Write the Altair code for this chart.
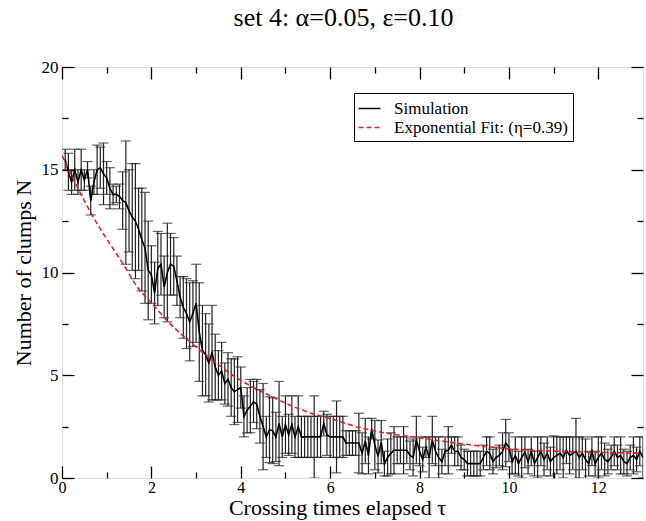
import altair as alt
import pandas as pd

# Simulation: mean number of clumps and error half-width, sampled every 1/14 crossing time
N_SIM = [
    15.5, 14.9, 14.4, 15.0, 14.4, 15.0, 14.5, 15.0, 13.5, 14.4, 15.0, 15.1, 14.8,
    14.6, 14.1, 13.8, 13.8, 13.7, 13.5, 13.4, 13.0, 12.7, 12.5, 12.1, 11.6, 11.2, 10.1,
    9.9, 9.0, 10.2, 10.4, 9.3, 10.0, 10.4, 10.3, 9.6, 8.8, 8.3, 8.0, 7.6, 8.0, 8.5, 7.1,
    6.2, 6.0, 5.6, 6.1, 5.4, 5.0, 5.2, 4.6, 4.8, 4.4, 4.2,
    4.3, 4.4, 3.0, 3.3, 3.5, 3.7, 3.6, 3.0, 2.5, 2.0, 2.35, 2.3, 2.0, 2.65, 2.0, 2.6,
    2.1, 2.6, 2.0, 2.5, 2.0, 2.0, 2.0, 2.0, 2.0, 2.0, 2.0, 2.65, 2.1, 2.0, 2.0,
    2.0, 2.0, 2.0, 1.7, 1.7, 1.7, 1.7, 1.7, 1.2, 1.8, 1.1, 2.4, 1.6, 1.05, 1.75, 0.7,
    1.0, 1.2, 1.35, 1.35, 1.35, 1.35, 1.35, 1.1, 1.0, 1.85, 1.3,
    0.9, 1.5, 1.0, 1.85, 1.3, 1.0, 0.8, 1.3, 1.35, 1.6, 1.3, 1.3, 1.0, 0.9,
    0.7, 0.7, 0.7, 0.7, 0.7, 1.0, 1.3, 1.2, 0.8, 1.0, 1.1, 1.3, 1.7, 1.5,
    0.8, 1.1, 0.7, 1.0, 1.25, 0.8, 1.3, 0.7, 1.0, 1.3, 0.9, 1.2, 0.8, 1.0, 1.1, 1.2,
    1.0, 1.35, 1.1, 1.2, 1.3, 1.0, 1.2, 0.9, 0.7, 1.3, 0.7, 1.0, 1.2, 0.9, 0.8, 1.0,
    1.3, 1.0, 1.1, 0.8, 0.7, 1.0, 1.1, 0.9, 1.3, 1.0,
]
ERR = [
    0.5, 0.9, 0.6, 1.0, 0.6, 1.0, 0.5, 0.4, 0.7, 0.6, 1.2, 1.0, 1.5,
    0.8, 1.0, 0.5, 0.4, 0.6, 1.4, 3.0, 2.0, 2.6, 2.8, 2.0, 2.5, 2.7, 2.4,
    1.4, 1.5, 1.8, 1.5, 1.5, 2.4, 1.5, 1.4, 1.2, 1.0, 1.5, 1.7, 1.9, 1.6, 1.9, 2.4,
    2.2, 2.0, 1.9, 2.3, 1.6, 1.2, 1.4, 1.0, 1.3, 1.4, 1.6,
    1.6, 1.0, 1.0, 1.1, 1.3, 1.0, 1.2, 1.3, 2.1, 1.0, 1.6, 1.6, 1.2, 2.05, 1.0, 1.4,
    1.0, 1.4, 1.0, 1.5, 1.0, 1.0, 1.0, 1.0, 2.0, 1.0, 1.0, 0.6, 1.0, 1.0, 1.0,
    1.75, 1.0, 1.0, 0.6, 0.6, 0.6, 0.6, 1.45, 1.0, 1.1, 0.9, 0.5, 1.2, 0.8, 1.05, 0.6,
    0.9, 1.0, 1.15, 0.65, 0.65, 1.15, 0.65, 0.7, 0.9, 1.15, 0.7,
    0.6, 0.5, 1.0, 1.15, 0.7, 1.0, 0.6, 0.7, 1.15, 0.4, 0.7, 0.7, 0.6, 0.5,
    0.6, 0.6, 0.6, 0.6, 0.6, 0.6, 0.7, 0.8, 0.6, 0.5, 0.5, 0.9, 1.15, 0.7,
    0.6, 0.9, 0.6, 1.0, 0.75, 0.6, 0.7, 0.6, 1.0, 0.7, 0.8, 0.8, 0.7, 1.05, 0.9, 0.8,
    1.0, 0.65, 0.9, 0.8, 1.6, 1.0, 0.8, 1.0, 0.6, 0.7, 0.6, 1.0, 0.8, 0.8, 0.6, 0.6,
    0.7, 0.6, 0.9, 0.6, 0.6, 0.6, 0.9, 0.6, 0.7, 1.0,
]
# Exponential fit curve
FIT_T = [0.0, 0.62, 1.4, 1.7, 1.97, 2.19, 2.42, 2.72, 3.3, 3.87, 4.62, 5.37, 6.11,
         6.64, 7.38, 8.02, 8.76, 9.51, 10.4, 11.45, 13.0]
FIT_N = [15.7, 13.0, 10.3, 9.25, 8.6, 8.05, 7.5, 6.9, 5.85, 4.93, 4.04, 3.31, 2.82,
         2.47, 2.14, 1.95, 1.72, 1.52, 1.36, 1.28, 1.2]

SERIES = ["Simulation", "Exponential Fit: (η=0.39)"]
X_MAJOR = [0, 2, 4, 6, 8, 10, 12]
X_MINOR = [1, 3, 5, 7, 9, 11]
Y_MAJOR = [0, 5, 10, 15, 20]
Y_MINOR = [2.5, 7.5, 12.5, 17.5]

t = [round((i + 1) / 14, 4) for i in range(len(N_SIM))]
sim = pd.DataFrame({"t": t, "n": N_SIM, "err": ERR})
sim["lo"] = sim["n"] - sim["err"]
sim["hi"] = sim["n"] + sim["err"]
sim["series"] = SERIES[0]
fit = pd.DataFrame({"t": FIT_T, "n": FIT_N, "series": SERIES[1]})

FONT = "Liberation Serif"
MAJ, MIN = 12, 6
xs = alt.Scale(domain=[0, 13], nice=False, zero=False)
ys = alt.Scale(domain=[0, 20], nice=False, zero=False)


def inward(orient, values, size, **kw):
    base = dict(orient=orient, values=values, tickSize=size, offset=-size,
                domain=False, grid=False, ticks=True, tickColor="black",
                tickWidth=1.3, labels=False, title=None,
                labelFont=FONT, labelFontSize=17, labelColor="black",
                titleFont=FONT, titleFontSize=22, titleColor="black",
                titleFontWeight="normal")
    base.update(kw)
    return alt.Axis(**base)


x_bottom = inward("bottom", X_MAJOR, MAJ, labels=True, labelPadding=1,
                  labelFontSize=16, labelFlush=False, labelOverlap=False,
                  title="Crossing times elapsed τ", titlePadding=2, titleX=275)
y_left = inward("left", Y_MAJOR, MAJ, labels=True, labelPadding=4,
                labelFlush=False, labelOverlap=False,
                title="Number of clumps N", titlePadding=6)


def make_legend():
    return alt.Legend(title=None, orient="none", legendX=292, legendY=26,
                      strokeColor="black", fillColor="white", padding=5,
                      labelFont=FONT, labelFontSize=17, labelColor="black",
                      symbolType="M-1.15,0H1.15", symbolSize=360,
                      symbolStrokeWidth=1.5, labelOffset=14,
                      rowPadding=0, labelLimit=400)


color = alt.Color("series:N", scale=alt.Scale(domain=SERIES, range=["black", "#e3202a"]),
                  legend=make_legend())
dash = alt.StrokeDash("series:N", scale=alt.Scale(domain=SERIES, range=[[1, 0], [5, 3]]),
                      legend=make_legend())

bars = alt.Chart(sim).mark_rule(color="#222222", strokeWidth=1.2, clip=True).encode(
    x=alt.X("t:Q", scale=xs, axis=x_bottom),
    y=alt.Y("lo:Q", scale=ys, axis=y_left),
    y2="hi:Q",
)
caps_lo = alt.Chart(sim).mark_tick(orient="horizontal", size=10, thickness=1.2,
                                   color="#222222", clip=True).encode(
    x=alt.X("t:Q", scale=xs, axis=inward("bottom", X_MINOR, MIN)),
    y=alt.Y("lo:Q", scale=ys, axis=inward("left", Y_MINOR, MIN)),
)
caps_hi = alt.Chart(sim).mark_tick(orient="horizontal", size=10, thickness=1.2,
                                   color="#222222", clip=True).encode(
    x=alt.X("t:Q", scale=xs, axis=inward("top", X_MAJOR, MAJ)),
    y=alt.Y("hi:Q", scale=ys, axis=inward("right", Y_MAJOR, MAJ)),
)
sim_line = alt.Chart(sim).mark_line(strokeWidth=1.6, clip=True).encode(
    x=alt.X("t:Q", scale=xs, axis=inward("top", X_MINOR, MIN)),
    y=alt.Y("n:Q", scale=ys, axis=inward("right", Y_MINOR, MIN)),
    color=color, strokeDash=dash,
)
fit_line = alt.Chart(fit).mark_line(strokeWidth=1.6, interpolate="monotone", clip=True).encode(
    x=alt.X("t:Q", scale=xs, axis=None),
    y=alt.Y("n:Q", scale=ys, axis=None),
    color=color, strokeDash=dash,
)

chart = alt.layer(bars, caps_lo, caps_hi, sim_line, fit_line).resolve_axis(
    x="independent", y="independent"
).properties(
    width=581, height=411,
    autosize=alt.AutoSizeParams(type="none"),
    padding={"left": 62, "top": 67, "right": 3, "bottom": 43},
    title=alt.Title("set 4: α=0.05, ε=0.10", font=FONT, fontSize=26,
                    fontWeight="normal", color="black", offset=27, dx=-9),
).configure_view(stroke="black", strokeWidth=1.5).configure(background="white")

chart.save("out.html", embed_options={"renderer": "svg", "actions": False})
